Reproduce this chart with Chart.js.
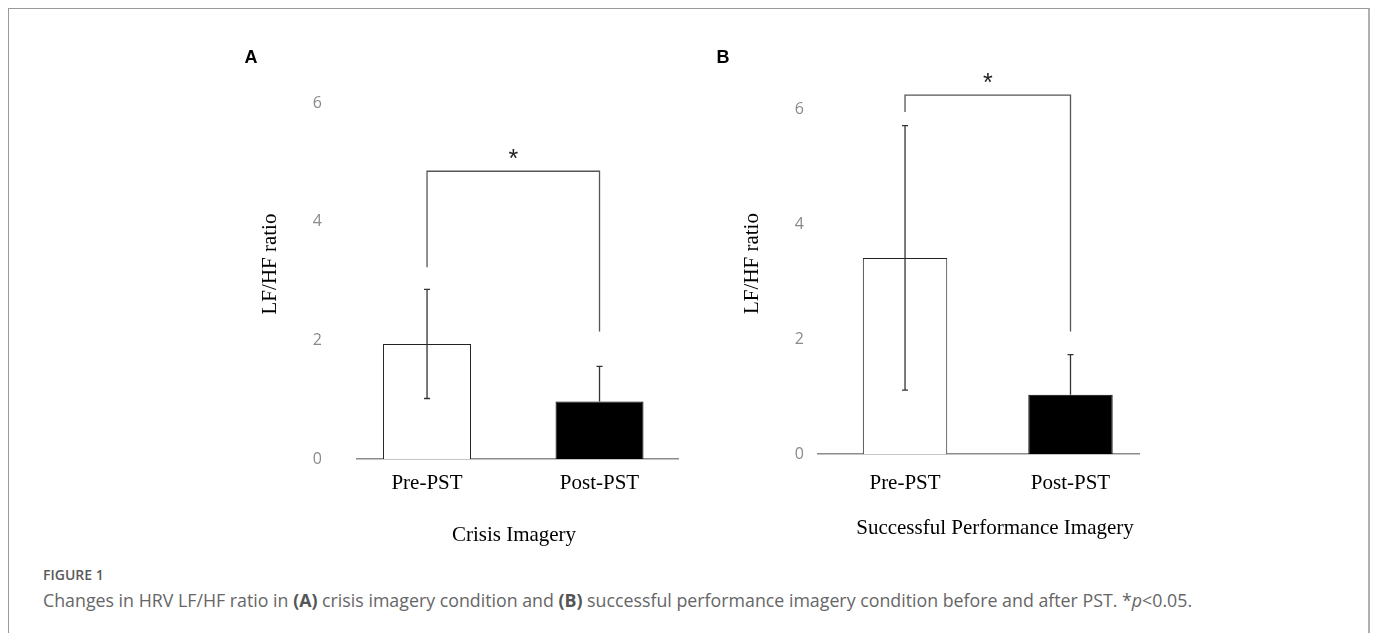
<!DOCTYPE html>
<html><head><meta charset="utf-8">
<script src="https://cdn.jsdelivr.net/npm/chart.js@4.4.1/dist/chart.umd.min.js"></script>
<style>
html,body{margin:0;padding:0;background:#fff;width:1375px;height:633px;overflow:hidden;}
#frame{position:absolute;left:8px;top:8px;height:700px;border:1px solid #9a9a9a;border-right:2px solid #b0b0b0;border-bottom:none;box-sizing:border-box;width:1362px;}
.cw{position:absolute;top:40px;width:470px;height:520px;}
#cwA{left:230px;}
#cwB{left:700px;}
#fig{position:absolute;left:43px;top:565px;font:600 14px "Open Sans";color:#5a5a5a;white-space:nowrap;}
#cap{position:absolute;left:43px;top:588px;font:17.8px "Open Sans";color:#666;white-space:nowrap;}
#cap b{font-weight:700;color:#555;}
</style></head>
<body>
<div id="frame"></div>
<div class="cw" id="cwA"><canvas id="cA" width="470" height="520"></canvas></div>
<div class="cw" id="cwB"><canvas id="cB" width="470" height="520"></canvas></div>
<div id="fig">FIGURE 1</div>
<div id="cap">Changes in HRV LF/HF ratio in <b>(A)</b> crisis imagery condition and <b>(B)</b> successful performance imagery condition before and after PST. *<i>p</i>&lt;0.05.</div>
<script>
// ---- data ----
const categories = ['Pre-PST', 'Post-PST'];
const crisisMean = [1.94, 0.97];
const crisisSD = [0.92, 0.59];
const successMean = [3.41, 1.03];
const successSD = [2.30, 0.70];
// bracket: [left leg end, top, right leg end]
const crisisBracket = [3.23, 4.85, 2.15];
const successBracket = [5.95, 6.24, 2.13];
const yTicks = [0, 2, 4, 6];
const barFills = ['#ffffff', '#000000'];
const yTitle = 'LF/HF ratio';
const xTitleA = 'Crisis Imagery';
const xTitleB = 'Successful Performance Imagery';

const annot = {
  id: 'annot',
  afterDatasetsDraw(chart, args, o) {
    const ctx = chart.ctx;
    const ys = chart.scales.y;
    const meta = chart.getDatasetMeta(0);
    ctx.save();
    // error bars
    ctx.strokeStyle = '#333';
    ctx.lineWidth = 1.3;
    o.mean.forEach((m, i) => {
      const x = meta.data[i].x;
      const t = ys.getPixelForValue(m + o.sd[i]);
      const c = ys.getPixelForValue(m);
      const b = ys.getPixelForValue(m - o.sd[i]);
      ctx.beginPath();
      ctx.moveTo(x, t); ctx.lineTo(x, c);
      ctx.moveTo(x - 3, t); ctx.lineTo(x + 3, t);
      if (barFills[i] !== '#000000') {
        ctx.moveTo(x, c); ctx.lineTo(x, b);
        ctx.moveTo(x - 3, b); ctx.lineTo(x + 3, b);
      }
      ctx.stroke();
    });
    // bracket
    const xl = meta.data[0].x, xr = meta.data[1].x;
    const br = o.bracket;
    ctx.strokeStyle = '#555';
    ctx.beginPath();
    ctx.moveTo(xl, ys.getPixelForValue(br[0]));
    ctx.lineTo(xl, ys.getPixelForValue(br[1]));
    ctx.lineTo(xr, ys.getPixelForValue(br[1]));
    ctx.lineTo(xr, ys.getPixelForValue(br[2]));
    ctx.stroke();
    ctx.fillStyle = '#222';
    ctx.font = '25px "Liberation Sans"';
    ctx.textAlign = 'center';
    ctx.textBaseline = 'alphabetic';
    ctx.fillText('*', (xl + xr) / 2, ys.getPixelForValue(br[1]) - 4);
    // titles
    ctx.fillStyle = '#000';
    ctx.font = '21px "Liberation Serif"';
    ctx.textBaseline = 'middle';
    ctx.fillText(o.xTitle, o.xTitlePos[0], o.xTitlePos[1]);
    ctx.save();
    ctx.translate(o.yTitlePos[0], o.yTitlePos[1]);
    ctx.rotate(-Math.PI / 2);
    ctx.fillText(yTitle, 0, 0);
    ctx.restore();
    ctx.font = 'bold 18px "Liberation Sans"';
    ctx.fillText(o.letter, o.letterPos[0], o.letterPos[1]);
    ctx.restore();
  }
};

function makeChart(id, mean, sd, bracket, L) {
  return new Chart(document.getElementById(id), {
    type: 'bar',
    data: {
      datasets: [{
        data: mean.map((v, i) => ({ x: i, y: v })),
        backgroundColor: barFills,
        borderColor: ['#222222', '#000000'],
        borderWidth: 1,
        barPercentage: 0.51,
        categoryPercentage: 1
      }]
    },
    options: {
      responsive: false,
      animation: false,
      events: [],
      layout: { padding: { left: 0, top: L.top, right: L.right, bottom: 0 } },
      plugins: {
        legend: { display: false },
        tooltip: { enabled: false },
        annot: { mean, sd, bracket, xTitle: L.xTitle, xTitlePos: L.xTitlePos, yTitlePos: L.yTitlePos, letter: L.letter, letterPos: L.letterPos }
      },
      scales: {
        x: {
          type: 'linear',
          offset: false,
          min: L.xmin, max: L.xmax,
          afterBuildTicks: s => { s.ticks = categories.map((c, i) => ({ value: i })); },
          afterFit: s => { s.height = L.xh; },
          grid: { display: false, drawTicks: false },
          border: { display: true, color: '#8c8c8c', width: 1.5 },
          ticks: {
            autoSkip: false, maxRotation: 0, padding: L.xpad,
            color: '#000', font: { family: 'Liberation Serif', size: 21 },
            callback: v => categories[v]
          }
        },
        y: {
          min: 0, max: 6,
          afterBuildTicks: s => { s.ticks = yTicks.map(v => ({ value: v })); },
          afterFit: s => { s.width = L.yw; },
          grid: { display: false, drawTicks: false },
          border: { display: false },
          ticks: { padding: L.ypad, color: '#8a8a8a', font: { family: 'Open Sans', size: 16 } }
        }
      }
    },
    plugins: [annot]
  });
}

makeChart('cA', crisisMean, crisisSD, crisisBracket, {
  top: 63, right: 22, yw: 127, xh: 101, xmin: -0.406, xmax: 1.455, xpad: 12, ypad: 35,
  xTitle: xTitleA, xTitlePos: [284, 495], yTitlePos: [40, 224], letter: 'A', letterPos: [21, 18]
});
makeChart('cB', successMean, successSD, successBracket, {
  top: 69, right: 31, yw: 118, xh: 106, xmin: -0.526, xmax: 1.414, xpad: 17, ypad: 14,
  xTitle: xTitleB, xTitlePos: [295, 488], yTitlePos: [52, 223.5], letter: 'B', letterPos: [23, 18]
});
</script>
</body></html>
